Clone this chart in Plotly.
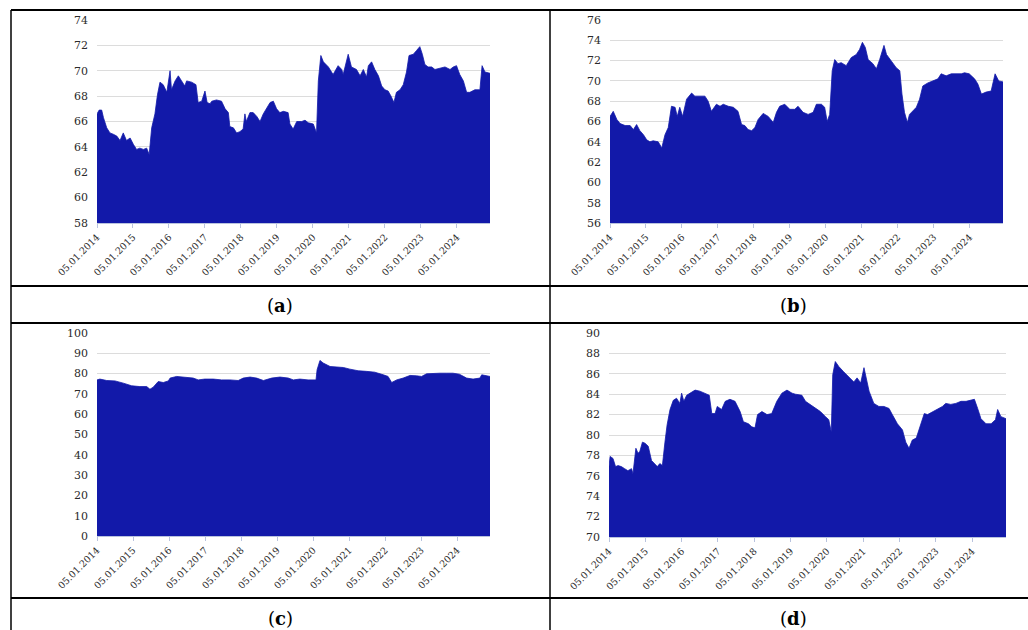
import plotly.graph_objects as go

# ---------------- data (decimal years) ----------------
tick_years = [2014, 2015, 2016, 2017, 2018, 2019, 2020, 2021, 2022, 2023, 2024]
tick_labels = ["05.01.2014", "05.01.2015", "05.01.2016", "05.01.2017", "05.01.2018",
               "05.01.2019", "05.01.2020", "05.01.2021", "05.01.2022", "05.01.2023",
               "05.01.2024"]
captions = ["a", "b", "c", "d"]

a_years = [2014.00, 2014.06, 2014.13, 2014.18, 2014.27, 2014.36, 2014.45, 2014.55, 2014.64, 2014.73,
           2014.82, 2014.92, 2015.01, 2015.10, 2015.19, 2015.29, 2015.38, 2015.45, 2015.52, 2015.61,
           2015.68, 2015.75, 2015.84, 2015.94, 2016.03, 2016.07, 2016.17, 2016.26, 2016.35, 2016.44,
           2016.49, 2016.63, 2016.75, 2016.81, 2016.91, 2017.00, 2017.06, 2017.14, 2017.19, 2017.32,
           2017.46, 2017.56, 2017.65, 2017.69, 2017.79, 2017.88, 2017.97, 2018.06, 2018.11, 2018.15,
           2018.25, 2018.34, 2018.44, 2018.53, 2018.62, 2018.71, 2018.81, 2018.90, 2018.99, 2019.08,
           2019.18, 2019.31, 2019.36, 2019.45, 2019.55, 2019.69, 2019.78, 2019.87, 2020.01, 2020.10,
           2020.15, 2020.22, 2020.29, 2020.43, 2020.56, 2020.70, 2020.80, 2020.84, 2020.98, 2021.07,
           2021.21, 2021.31, 2021.40, 2021.49, 2021.54, 2021.63, 2021.72, 2021.82, 2021.91, 2022.00,
           2022.09, 2022.17, 2022.25, 2022.32, 2022.42, 2022.51, 2022.60, 2022.67, 2022.79, 2022.88,
           2022.97, 2023.04, 2023.11, 2023.20, 2023.30, 2023.39, 2023.53, 2023.67, 2023.81, 2023.90,
           2023.99, 2024.08, 2024.18, 2024.27, 2024.36, 2024.50, 2024.64, 2024.70, 2024.78, 2024.92]
a_vals = [66.6, 66.9, 66.9, 66.3, 65.5, 65.1, 65.0, 64.85, 64.5, 65.1,
          64.5, 64.7, 64.2, 63.8, 63.9, 63.8, 63.9, 63.4, 65.5, 66.6,
          68.1, 69.1, 68.9, 68.3, 70.0, 68.5, 69.2, 69.6, 69.2, 68.8,
          69.2, 69.1, 68.9, 67.5, 67.6, 68.4, 67.5, 67.4, 67.6, 67.7,
          67.6, 67.0, 66.7, 65.6, 65.5, 65.1, 65.2, 65.4, 66.6, 66.0,
          66.7, 66.7, 66.4, 66.0, 66.6, 67.0, 67.5, 67.6, 67.0, 66.7,
          66.8, 66.7, 65.8, 65.4, 66.0, 66.0, 66.1, 65.9, 65.8, 65.1,
          69.2, 71.2, 70.7, 70.3, 69.7, 70.4, 70.1, 69.7, 71.3, 70.3,
          70.1, 69.6, 70.1, 69.5, 70.4, 70.7, 70.1, 69.6, 68.8, 68.5,
          68.4, 68.0, 67.5, 68.3, 68.5, 68.9, 69.9, 71.2, 71.3, 71.6,
          71.9, 71.3, 70.5, 70.3, 70.3, 70.1, 70.2, 70.3, 70.1, 70.3,
          70.4, 69.7, 69.2, 68.3, 68.3, 68.5, 68.5, 70.4, 69.9, 69.8]

b_years = [2014.00, 2014.09, 2014.19, 2014.28, 2014.42, 2014.56, 2014.65, 2014.74, 2014.83, 2014.93,
           2015.02, 2015.11, 2015.20, 2015.34, 2015.44, 2015.53, 2015.62, 2015.71, 2015.81, 2015.87,
           2015.94, 2016.02, 2016.13, 2016.27, 2016.36, 2016.50, 2016.64, 2016.73, 2016.82, 2016.96,
           2017.06, 2017.15, 2017.29, 2017.43, 2017.56, 2017.66, 2017.75, 2017.84, 2017.94, 2018.03,
           2018.12, 2018.26, 2018.40, 2018.54, 2018.63, 2018.72, 2018.86, 2019.00, 2019.14, 2019.23,
           2019.37, 2019.51, 2019.65, 2019.74, 2019.88, 2019.97, 2020.04, 2020.11, 2020.18, 2020.25,
           2020.34, 2020.43, 2020.57, 2020.71, 2020.85, 2020.94, 2021.02, 2021.10, 2021.18, 2021.31,
           2021.41, 2021.50, 2021.62, 2021.69, 2021.82, 2021.96, 2022.06, 2022.12, 2022.19, 2022.27,
           2022.33, 2022.42, 2022.52, 2022.61, 2022.70, 2022.84, 2022.98, 2023.12, 2023.21, 2023.35,
           2023.49, 2023.63, 2023.77, 2023.86, 2023.99, 2024.14, 2024.23, 2024.33, 2024.46, 2024.60,
           2024.71, 2024.81, 2024.93]
b_vals = [66.5, 67.0, 66.2, 65.8, 65.6, 65.6, 65.2, 65.7, 65.1, 64.7,
          64.2, 64.0, 64.1, 64.0, 63.4, 64.7, 65.4, 67.5, 67.4, 66.5,
          67.4, 66.5, 68.2, 68.8, 68.5, 68.5, 68.5, 68.0, 67.0, 67.7,
          67.5, 67.7, 67.5, 67.4, 67.0, 65.7, 65.6, 65.2, 65.1, 65.4,
          66.2, 66.8, 66.5, 65.9, 66.9, 67.5, 67.7, 67.2, 67.2, 67.5,
          66.9, 66.7, 66.9, 67.7, 67.7, 67.4, 66.0, 66.7, 71.0, 72.1,
          71.7, 71.8, 71.5, 72.3, 72.6, 73.1, 73.8, 73.3, 72.1, 71.7,
          71.2, 72.1, 73.5, 72.6, 72.0, 71.3, 71.0, 68.7, 66.9, 65.9,
          66.7, 67.0, 67.4, 68.2, 69.5, 69.8, 70.0, 70.2, 70.7, 70.5,
          70.7, 70.7, 70.7, 70.8, 70.7, 70.2, 69.7, 68.7, 68.9, 69.0,
          70.7, 70.0, 69.9]

c_years = [2014.00, 2014.08, 2014.27, 2014.50, 2014.73, 2014.96, 2015.19, 2015.38, 2015.47, 2015.56,
           2015.70, 2015.84, 2015.98, 2016.03, 2016.21, 2016.44, 2016.67, 2016.81, 2016.99, 2017.23,
           2017.46, 2017.69, 2017.92, 2018.06, 2018.25, 2018.43, 2018.62, 2018.85, 2019.08, 2019.31,
           2019.45, 2019.63, 2019.86, 2020.08, 2020.11, 2020.19, 2020.28, 2020.47, 2020.65, 2020.84,
           2021.02, 2021.25, 2021.48, 2021.71, 2021.95, 2022.08, 2022.18, 2022.32, 2022.50, 2022.69,
           2022.87, 2023.01, 2023.15, 2023.33, 2023.52, 2023.70, 2023.88, 2024.06, 2024.26, 2024.44,
           2024.63, 2024.68, 2024.91]
c_vals = [76.9, 77.3, 76.6, 76.4, 75.3, 74.0, 73.6, 73.6, 72.3, 73.3,
          76.1, 75.6, 76.4, 77.8, 78.6, 78.1, 77.8, 76.9, 77.3, 77.3,
          76.9, 76.9, 76.6, 77.8, 78.3, 77.8, 76.6, 77.8, 78.3, 77.8,
          76.9, 77.3, 76.9, 76.9, 81.9, 86.5, 85.2, 83.5, 83.2, 83.0,
          82.2, 81.4, 81.1, 80.7, 79.4, 78.6, 75.6, 76.9, 77.8, 79.1,
          78.9, 78.6, 79.9, 80.2, 80.2, 80.2, 80.2, 79.7, 77.8, 77.3,
          77.8, 79.4, 78.6]

d_years = [2014.00, 2014.03, 2014.11, 2014.18, 2014.25, 2014.34, 2014.43, 2014.52, 2014.62, 2014.66,
           2014.74, 2014.80, 2014.85, 2014.92, 2014.99, 2015.08, 2015.17, 2015.26, 2015.33, 2015.40,
           2015.47, 2015.54, 2015.60, 2015.68, 2015.77, 2015.86, 2015.95, 2016.00, 2016.06, 2016.14,
           2016.23, 2016.37, 2016.50, 2016.64, 2016.76, 2016.83, 2016.92, 2016.98, 2017.10, 2017.20,
           2017.33, 2017.47, 2017.61, 2017.70, 2017.84, 2017.93, 2018.02, 2018.09, 2018.21, 2018.35,
           2018.48, 2018.62, 2018.76, 2018.90, 2019.04, 2019.13, 2019.31, 2019.41, 2019.54, 2019.68,
           2019.82, 2019.96, 2020.05, 2020.12, 2020.16, 2020.23, 2020.33, 2020.46, 2020.60, 2020.74,
           2020.83, 2020.93, 2021.02, 2021.08, 2021.16, 2021.29, 2021.43, 2021.57, 2021.71, 2021.80,
           2021.94, 2022.08, 2022.17, 2022.26, 2022.35, 2022.46, 2022.56, 2022.68, 2022.77, 2022.91,
           2023.04, 2023.18, 2023.27, 2023.41, 2023.55, 2023.69, 2023.83, 2023.96, 2024.06, 2024.15,
           2024.24, 2024.38, 2024.52, 2024.64, 2024.70, 2024.79, 2024.93]
d_vals = [76.9, 77.9, 77.7, 76.9, 77.0, 76.9, 76.7, 76.5, 76.7, 76.2,
          78.7, 78.2, 78.4, 79.3, 79.2, 78.9, 77.5, 77.2, 76.9, 77.2,
          77.0, 79.3, 81.0, 82.5, 83.4, 83.6, 83.1, 84.1, 83.3, 83.9,
          84.1, 84.4, 84.3, 84.1, 83.9, 82.1, 82.1, 82.8, 82.5, 83.3,
          83.5, 83.3, 82.3, 81.3, 81.1, 80.8, 80.7, 82.0, 82.3, 82.0,
          82.1, 83.3, 84.1, 84.4, 84.1, 84.0, 83.9, 83.3, 83.0, 82.6,
          82.3, 81.8, 81.5, 80.3, 85.9, 87.2, 86.7, 86.2, 85.7, 85.2,
          85.6, 85.1, 86.6, 85.7, 84.3, 83.1, 82.8, 82.8, 82.6, 82.0,
          81.1, 80.5, 79.3, 78.7, 79.5, 79.7, 80.7, 82.1, 82.0, 82.3,
          82.5, 82.8, 83.1, 83.0, 83.1, 83.3, 83.3, 83.4, 83.5, 82.6,
          81.6, 81.1, 81.1, 81.5, 82.5, 81.8, 81.6]

y_ranges = [[58, 74], [56, 76], [0, 100], [70, 90]]
y_steps = [2, 2, 10, 2]

# ---------------- layout geometry (pixels in a 1028 x 630 page) ----------------
W, H = 1028, 630
FILL = "#1219A9"
SERIF = "DejaVu Serif"

def px(x):
    return x / W

def py(y):
    return 1 - y / H

# plot boxes: (left, right, top, bottom) in pixels
boxes = [(97, 490, 20, 223), (610, 1003, 20, 223), (97, 490, 333, 536), (609, 1006, 333, 537)]
caption_pos = [(280, 305), (793, 305), (280, 618), (793, 618)]

series = [(a_years, a_vals), (b_years, b_vals), (c_years, c_vals), (d_years, d_vals)]

fig = go.Figure()
layout = dict(width=W, height=H, margin=dict(l=0, r=0, t=0, b=0, autoexpand=False),
              paper_bgcolor="white", plot_bgcolor="white", showlegend=False)

for i, ((xs, ys), box, yr, ys_step) in enumerate(zip(series, boxes, y_ranges, y_steps)):
    n = "" if i == 0 else str(i + 1)
    assert len(xs) == len(ys)
    fig.add_trace(go.Scatter(x=xs, y=ys, mode="lines", fill="tozeroy",
                             line=dict(color=FILL, width=0.8), fillcolor=FILL,
                             xaxis="x" + n, yaxis="y" + n, hoverinfo="skip"))
    l, r, t, b = box
    layout["xaxis" + n] = dict(
        domain=[px(l), px(r)], range=[2014.0, xs[-1]], anchor="y" + n, automargin=False,
        tickmode="array", tickvals=tick_years, ticktext=tick_labels, tickangle=-45,
        showgrid=False, zeroline=False, showline=True, linecolor="#b9c3de", linewidth=1,
        ticks="outside", ticklen=4, tickcolor="#b9c3de",
        tickfont=dict(family=SERIF, size=9.5, color="#2a2a2a"))
    layout["yaxis" + n] = dict(
        domain=[py(b), py(t)], range=yr, anchor="x" + n, automargin=False,
        tick0=yr[0], dtick=ys_step, showgrid=True, gridcolor="#dcdcdc", gridwidth=1,
        zeroline=False, showline=False, ticks="", ticklabelstandoff=8,
        tickfont=dict(family=SERIF, size=11, color="#2a2a2a"))

fig.update_layout(**layout)

# captions
for cap, (cx, cy) in zip(captions, caption_pos):
    fig.add_annotation(x=px(cx), y=py(cy), xref="paper", yref="paper",
                       text="(<b>%s</b>)" % cap, showarrow=False,
                       xanchor="center", yanchor="middle",
                       font=dict(family=SERIF, size=18, color="black"))

# table rules
hlines = [(10, 11, 1028), (286, 11, 1028), (323, 11, 1028), (598, 11, 1028)]
vlines = [(11, 10, 630), (550, 10, 630)]
for y, x0, x1 in hlines:
    fig.add_shape(type="line", xref="paper", yref="paper", x0=px(x0), x1=px(x1),
                  y0=py(y), y1=py(y), line=dict(color="black", width=2))
for x, y0, y1 in vlines:
    fig.add_shape(type="line", xref="paper", yref="paper", x0=px(x), x1=px(x),
                  y0=py(y0), y1=py(y1), line=dict(color="black", width=1.5))

fig.write_html("out.html")
